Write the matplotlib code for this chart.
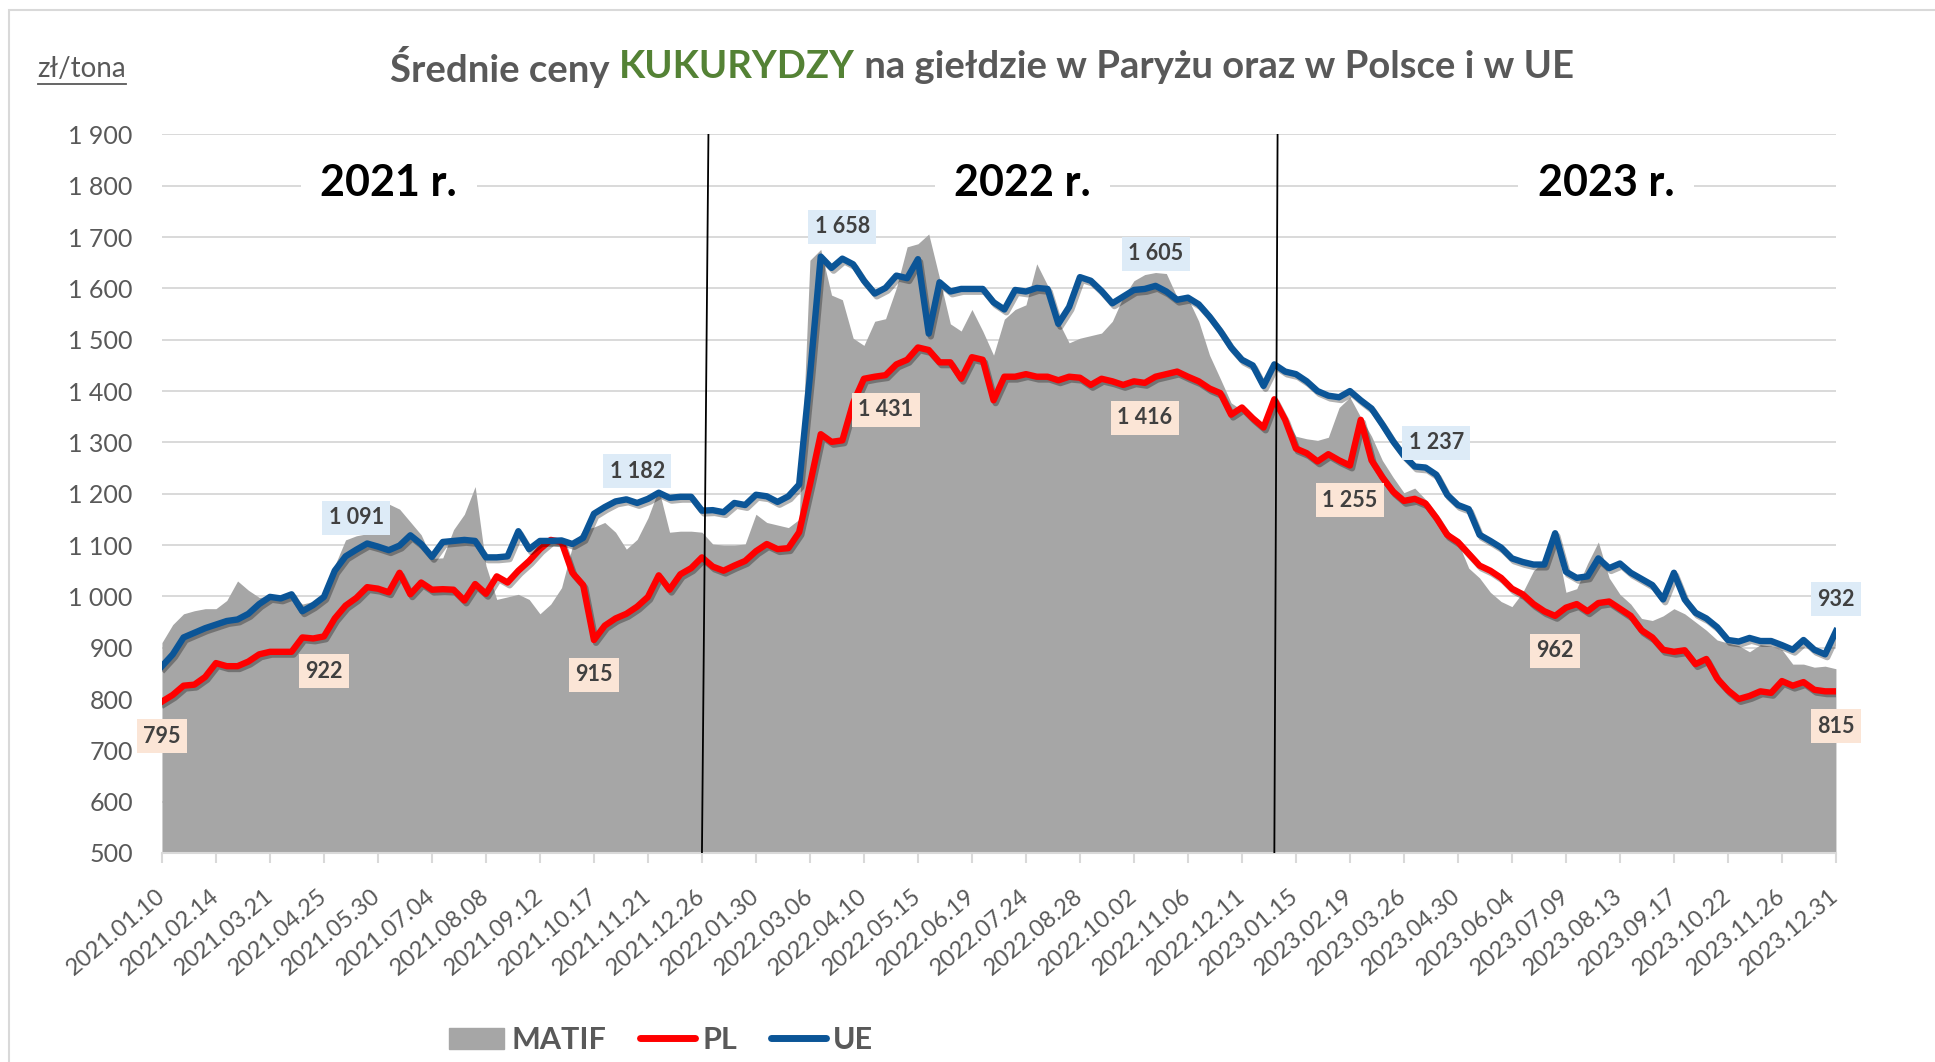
import numpy as np
import pandas as pd
import matplotlib
matplotlib.use("Agg")
import matplotlib.pyplot as plt
from matplotlib import patheffects as pe
from matplotlib.patches import Patch, Rectangle
from matplotlib.lines import Line2D

plt.rcParams['font.family'] = ['Lato', 'DejaVu Sans']

# weekly quotations, zł/tona
weeks = pd.date_range("2021-01-10", periods=156, freq="7D")
tick_labels = [d.strftime("%Y.%m.%d") for d in weeks[::5]]

matif = [
    910, 945, 966, 972, 976, 976, 992, 1030, 1012, 998,
    1000, 998, 1002, 985, 990, 1000, 1060, 1110, 1118, 1122,
    1128, 1180, 1170, 1145, 1120, 1074, 1075, 1130, 1160, 1214,
    1060, 994, 999, 1004, 994, 966, 985, 1017, 1097, 1130,
    1135, 1144, 1125, 1092, 1111, 1153, 1209, 1125, 1127, 1127,
    1125, 1102, 1100, 1100, 1102, 1160, 1144, 1139, 1134, 1150,
    1655, 1676, 1587, 1578, 1503, 1489, 1536, 1541, 1601, 1681,
    1687, 1706, 1620, 1531, 1517, 1559, 1517, 1470, 1540, 1559,
    1568, 1648, 1606, 1536, 1494, 1503, 1508, 1513, 1536, 1583,
    1615, 1627, 1631, 1629, 1583, 1581, 1536, 1470, 1424, 1377,
    1363, 1340, 1326, 1386, 1349, 1312, 1307, 1304, 1310, 1368,
    1388, 1349, 1312, 1265, 1232, 1202, 1211, 1189, 1158, 1130,
    1106, 1055, 1036, 1008, 990, 980, 1008, 1050, 1069, 1116,
    1008, 1015, 1064, 1106, 1036, 1004, 985, 957, 953, 962,
    976, 966, 950, 934, 915, 909, 904, 892, 906, 903,
    896, 868, 868, 862, 864, 859,
]

pl = [
    795, 808, 826, 828, 843, 870, 864, 864, 873, 887,
    892, 892, 892, 920, 918, 922, 957, 982, 997, 1018,
    1015, 1008, 1046, 1004, 1027, 1013, 1014, 1013, 992, 1024,
    1005, 1039, 1027, 1050, 1069, 1092, 1110, 1106, 1046, 1022,
    915, 943, 957, 966, 980, 999, 1041, 1013, 1043, 1055,
    1076, 1058, 1050, 1060, 1069, 1088, 1102, 1092, 1094, 1125,
    1218, 1316, 1301, 1304, 1377, 1424, 1428, 1431, 1452, 1461,
    1485, 1480, 1456, 1456, 1424, 1466, 1461, 1382, 1428, 1428,
    1433, 1428, 1428, 1421, 1428, 1426, 1412, 1424, 1419, 1412,
    1419, 1416, 1428, 1433, 1438, 1428, 1419, 1405, 1396, 1354,
    1368, 1347, 1329, 1384, 1344, 1288, 1279, 1263, 1277, 1265,
    1255, 1344, 1265, 1232, 1204, 1186, 1190, 1181, 1153, 1120,
    1106, 1083, 1060, 1050, 1036, 1015, 1004, 985, 971, 962,
    978, 985, 971, 987, 990, 976, 962, 934, 920, 896,
    892, 895, 868, 878, 840, 817, 800, 806, 815, 812,
    835, 826, 833, 818, 815, 815,
]

ue = [
    864, 887, 920, 929, 938, 945, 952, 955, 966, 985,
    999, 996, 1004, 971, 983, 999, 1050, 1078, 1091, 1103,
    1097, 1090, 1099, 1119, 1102, 1077, 1106, 1108, 1110, 1108,
    1076, 1076, 1078, 1127, 1092, 1108, 1108, 1109, 1102, 1114,
    1161, 1174, 1185, 1189, 1182, 1190, 1202, 1192, 1194, 1194,
    1167, 1168, 1164, 1182, 1178, 1198, 1195, 1184, 1195, 1218,
    1430, 1662, 1640, 1658, 1647, 1615, 1590, 1601, 1625, 1620,
    1657, 1512, 1612, 1594, 1599, 1599, 1599, 1573, 1559, 1597,
    1594, 1601, 1599, 1531, 1564, 1622, 1615, 1595, 1571, 1584,
    1597, 1599, 1605, 1594, 1578, 1582, 1569, 1545, 1517, 1485,
    1461, 1450, 1410, 1452, 1438, 1433, 1419, 1400, 1391, 1388,
    1400, 1382, 1366, 1335, 1302, 1274, 1253, 1251, 1237, 1198,
    1178, 1170, 1120, 1108, 1095, 1074, 1067, 1062, 1062, 1123,
    1048, 1036, 1039, 1074, 1055, 1064, 1046, 1034, 1022, 994,
    1046, 994, 968, 957, 940, 915, 912, 919, 913, 913,
    905, 896, 915, 896, 887, 932,
]

ue_label_idx = [18, 44, 63, 92, 118, 155]
pl_label_idx = [0, 15, 40, 67, 91, 110, 129, 155]

year_names = ["2021 r.", "2022 r.", "2023 r."]
year_label_x = [21, 79.7, 133.7]
year_breaks = [(50.0, 50.6), (103.0, 103.3)]

TXT = '#595959'
RED = '#FF0000'
BLUE = '#0B5597'
GRAY = '#A6A6A6'
GRID = '#D9D9D9'


def fmt(v):
    return f"{v:,.0f}".replace(",", " ")


fig = plt.figure(figsize=(19.35, 10.62), dpi=100)
ax = fig.add_axes([0.0837, 0.1968, 0.8651, 0.6766])
x = np.arange(len(weeks))

ax.fill_between(x, matif, 0, color=GRAY, lw=0, zorder=2)
shadow = [pe.SimpleLineShadow(offset=(1.5, -2), alpha=0.3), pe.Normal()]
ax.plot(x, pl, color=RED, lw=4.6, zorder=4, path_effects=shadow,
        solid_joinstyle='round')
ax.plot(x, ue, color=BLUE, lw=4.6, zorder=5, path_effects=shadow,
        solid_joinstyle='round')

# year separators
for b, t in year_breaks:
    ax.plot([b, t], [500, 1900], color='black', lw=1.3, zorder=6)

ax.set_xlim(0, len(weeks) - 1)
ax.set_ylim(500, 1900)
yt = list(range(500, 2000, 100))
ax.set_yticks(yt)
ax.set_yticklabels([fmt(v) for v in yt])
ax.grid(axis='y', color=GRID, lw=1.4, zorder=0)
ax.set_axisbelow(True)
for s in ['top', 'right', 'left']:
    ax.spines[s].set_visible(False)
ax.spines['bottom'].set_color(GRID)
ax.spines['bottom'].set_linewidth(1.5)
ax.tick_params(axis='y', length=0, pad=21, labelsize=18, labelcolor=TXT)

ax.set_xticks(x[::5])
ax.set_xticklabels(tick_labels, rotation=40, ha='right', va='center',
                   rotation_mode='anchor')
ax.tick_params(axis='x', length=7, width=1.5, color=GRID, pad=22,
               labelsize=17, labelcolor=TXT)

# year captions
for name, xp in zip(year_names, year_label_x):
    ax.text(xp, 1805, name, fontsize=31, fontweight='bold', color='black',
            ha='center', va='center', zorder=7,
            bbox=dict(boxstyle='square,pad=0.45', fc='white', ec='none'))

# data labels
for i in ue_label_idx:
    ax.annotate(fmt(ue[i]), (i, ue[i]), xytext=(0, 23), textcoords='offset points',
                ha='center', va='center', fontsize=15.5, fontweight='bold',
                color='#404040', zorder=8, annotation_clip=False,
                bbox=dict(boxstyle='square,pad=0.3', fc='#DDEBF7', ec='none'))
for i in pl_label_idx:
    ax.annotate(fmt(pl[i]), (i, pl[i]), xytext=(0, -25), textcoords='offset points',
                ha='center', va='center', fontsize=15.5, fontweight='bold',
                color='#404040', zorder=8, annotation_clip=False,
                bbox=dict(boxstyle='square,pad=0.3', fc='#FBE5D6', ec='none'))

# legend
handles = [Patch(color=GRAY),
           Line2D([], [], color=RED, lw=5, solid_capstyle='round'),
           Line2D([], [], color=BLUE, lw=5, solid_capstyle='round')]
fig.legend(handles, ['MATIF', 'PL', 'UE'], loc='center',
           bbox_to_anchor=(0.3416, 0.0207), ncol=3, frameon=False,
           prop={'weight': 'bold', 'size': 22}, labelcolor=TXT,
           handlelength=1.8, handletextpad=0.25, columnspacing=1.1)

# title in two colours
renderer = fig.canvas.get_renderer()
tprops = dict(fontsize=27.5, fontweight='bold', va='center', ha='left')
parts = [("Średnie ceny ", TXT), ("KUKURYDZY", '#548235'),
         (" na giełdzie w Paryżu oraz w Polsce i w UE", TXT)]
x0 = 0.2016
prefix = ""
W = fig.get_window_extent().width
for txt, col in parts:
    if prefix:
        probe = fig.text(0, 0, prefix + "|", **tprops)
        bar = fig.text(0, 0, "|", **tprops)
        off = (probe.get_window_extent(renderer).width
               - bar.get_window_extent(renderer).width) / W
        probe.remove()
        bar.remove()
    else:
        off = 0
    fig.text(x0 + off, 0.937, txt, color=col, **tprops)
    prefix += txt

# unit caption, underlined
unit = fig.text(0.0424, 0.935, "zł/tona", fontsize=20, color=TXT,
                ha='center', va='center')
bb = unit.get_window_extent(renderer).transformed(fig.transFigure.inverted())
fig.add_artist(Line2D([bb.x0, bb.x1], [0.921, 0.921], color=TXT, lw=1.3,
                      transform=fig.transFigure))

# outer chart border
fig.add_artist(Rectangle((0.0045, -0.1), 1.2, 1.0906, transform=fig.transFigure,
                         fill=False, ec=GRID, lw=1.5))

fig.savefig("out.png", dpi=100)
